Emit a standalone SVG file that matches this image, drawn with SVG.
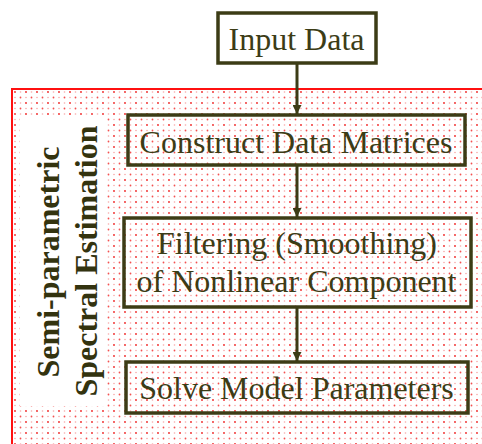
<svg xmlns="http://www.w3.org/2000/svg" width="482" height="444" viewBox="0 0 482 444">
<style>
.box{fill:none;stroke:#3c3c16;stroke-width:3.5}
.lbl{font-family:"Liberation Serif","Times New Roman",serif;font-size:32px;fill:#3c3c16;text-anchor:middle}
.side{font-family:"Liberation Serif","Times New Roman",serif;font-size:32px;font-weight:bold;fill:#33330f;text-anchor:middle}
.edge{stroke:#3c3c16;stroke-width:3;fill:none;marker-end:url(#ah)}
</style>
<defs>
<pattern id="dots" x="13" y="90" width="11" height="11" patternUnits="userSpaceOnUse">
<rect width="11" height="11" fill="#ffffff"/>
<circle cx="2" cy="2" r="0.9" fill="#f02020"/>
<circle cx="7.5" cy="7.5" r="0.9" fill="#f45050"/>
<circle cx="7.5" cy="2" r="0.8" fill="#f8a8a8"/>
<circle cx="2" cy="7.5" r="0.8" fill="#f8a8a8"/>
</pattern>
<marker id="ah" viewBox="0 0 10 10" refX="10" refY="5" markerWidth="3.4" markerHeight="3" orient="auto" markerUnits="strokeWidth">
<path d="M0,0 L10,5 L0,10 z" fill="#3c3c16"/>
</marker>
</defs>
<rect width="482" height="444" fill="#ffffff"/>
<g id="cluster">
<rect x="12" y="89" width="480" height="400" fill="url(#dots)" stroke="#ff1010" stroke-width="2"/>
<rect x="20" y="118" width="87" height="288" fill="#ffffff"/>
<text class="side" transform="translate(59,262) rotate(-90)">Semi-parametric</text>
<text class="side" transform="translate(97,261) rotate(-90)">Spectral Estimation</text>
</g>
<g id="connectors">
<line class="edge" x1="297" y1="63" x2="297" y2="114"/>
<line class="edge" x1="297" y1="165" x2="297" y2="217"/>
<line class="edge" x1="297" y1="307" x2="297" y2="361"/>
</g>
<g id="input">
<rect class="box" x="218" y="13" width="158" height="50" fill="#ffffff" style="fill:#ffffff"/>
<text class="lbl" x="296.5" y="50">Input Data</text>
</g>
<g id="construct">
<rect class="box" x="128" y="115" width="337" height="50"/>
<text class="lbl" x="296" y="153">Construct Data Matrices</text>
</g>
<g id="filter">
<rect class="box" x="124" y="218" width="347" height="89"/>
<text class="lbl" x="297" y="254">Filtering (Smoothing)</text>
<text class="lbl" x="296.5" y="292">of Nonlinear Component</text>
</g>
<g id="solve">
<rect class="box" x="126" y="362" width="342" height="51"/>
<text class="lbl" x="296.5" y="399">Solve Model Parameters</text>
</g>
</svg>
